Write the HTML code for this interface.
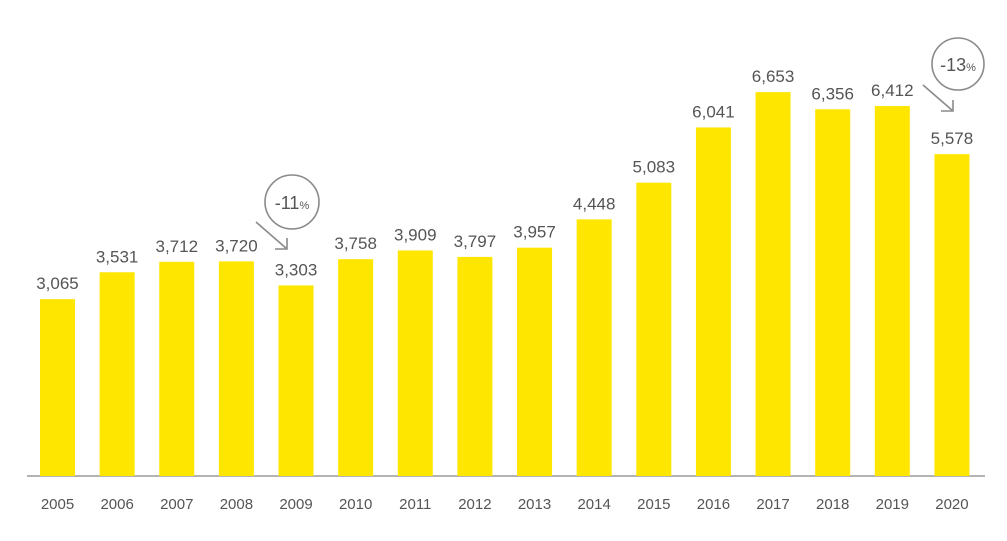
<!DOCTYPE html>
<html><head><meta charset="utf-8"><style>
body{margin:0;background:#fff;}
svg{display:block;font-family:"Liberation Sans","DejaVu Sans",sans-serif;}
</style></head><body>
<svg id="chart" width="1007" height="541" viewBox="0 0 1007 541">
<line x1="27" y1="476" x2="985" y2="476" stroke="#9a9a9a" stroke-width="1.5"/>
<g id="bars"></g>
<g fill="none" stroke="#8a8a8a" stroke-width="1.6">
<circle cx="292" cy="202" r="27"/>
<line x1="256" y1="222" x2="287" y2="249"/>
<polyline points="275,249 287,249 287,238"/>
</g>
<text x="292" y="209" text-anchor="middle" font-size="18" fill="#555">-11<tspan font-size="11">%</tspan></text>
<g fill="none" stroke="#8a8a8a" stroke-width="1.6">
<circle cx="958" cy="64" r="26"/>
<line x1="923" y1="85" x2="953" y2="111"/>
<polyline points="941,111 953,111 953,100"/>
</g>
<text x="958" y="71" text-anchor="middle" font-size="18" fill="#555">-13<tspan font-size="11">%</tspan></text>
</svg>
<script>
const years=["2005","2006","2007","2008","2009","2010","2011","2012","2013","2014","2015","2016","2017","2018","2019","2020"];
const values=[3065,3531,3712,3720,3303,3758,3909,3797,3957,4448,5083,6041,6653,6356,6412,5578];
const valueLabels=["3,065","3,531","3,712","3,720","3,303","3,758","3,909","3,797","3,957","4,448","5,083","6,041","6,653","6,356","6,412","5,578"];
const NS="http://www.w3.org/2000/svg";
const x0=57.5, step=59.63, bw=35, base=476, k=0.0577;
const xs=i=>x0+i*step;
const ys=v=>base-v*k;
const g=document.getElementById('bars');
years.forEach((yr,i)=>{
  const r=document.createElementNS(NS,'rect');
  
  
  r.setAttribute('x',xs(i)-bw/2);r.setAttribute('y',ys(values[i]));
  r.setAttribute('width',bw);r.setAttribute('height',base-ys(values[i]));
  r.setAttribute('fill','#ffe600');
  g.appendChild(r);
  const t=document.createElementNS(NS,'text');
  
  
  t.setAttribute('x',xs(i));t.setAttribute('y',ys(values[i])-10);
  t.setAttribute('text-anchor','middle');t.setAttribute('font-size','17');t.setAttribute('fill','#555');
  t.textContent=valueLabels[i];
  g.appendChild(t);
  const l=document.createElementNS(NS,'text');
  
  
  l.setAttribute('x',xs(i));l.setAttribute('y',509);
  l.setAttribute('text-anchor','middle');l.setAttribute('font-size','15');l.setAttribute('fill','#555');
  l.textContent=yr;
  g.appendChild(l);
});
</script>
</body></html>
